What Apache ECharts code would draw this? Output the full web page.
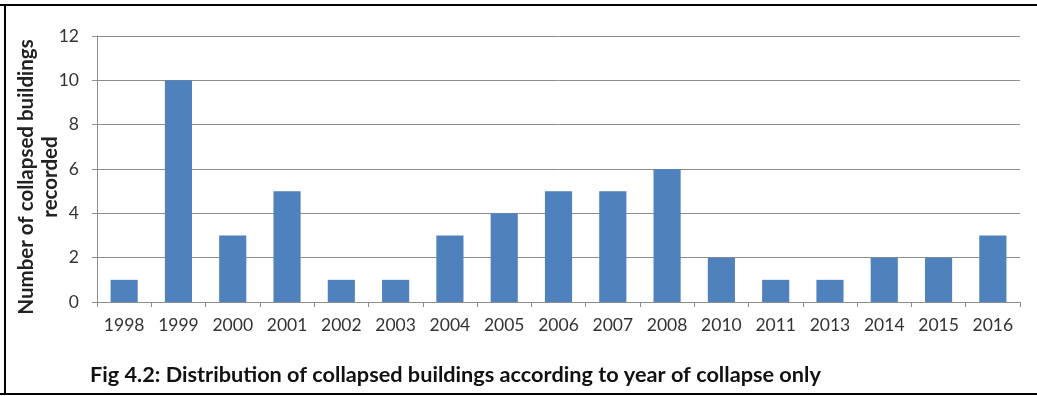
<!DOCTYPE html>
<html><head><meta charset="utf-8">
<script src="https://cdn.jsdelivr.net/npm/echarts@6/dist/echarts.min.js"></script>
<style>html,body{margin:0;padding:0;background:#fff}#c{width:1037px;height:396px}</style>
</head><body><div id="c"></div>
<script>
const categories = ['1998','1999','2000','2001','2002','2003','2004','2005','2006','2007','2008','2010','2011','2013','2014','2015','2016'];
const values = [1,10,3,5,1,1,3,4,5,5,6,2,1,1,2,2,3];
const yTitle = 'Number of collapsed buildings\nrecorded';
const caption = 'Fig 4.2: Distribution of collapsed buildings according to year of collapse only';

const chart = echarts.init(document.getElementById('c'), null, {renderer:'canvas'});
const font = 'Lato, "Liberation Sans", sans-serif';
chart.setOption({
  animation:false,
  grid:{left:97, right:17, top:36, bottom:94},
  xAxis:{type:'category', data:categories,
    axisLine:{lineStyle:{color:'#8c8c8c', width:1}},
    axisTick:{show:true, alignWithLabel:false, length:5, lineStyle:{color:'#8c8c8c'}},
    axisLabel:{color:'#333', fontSize:17.5, fontFamily:font, margin:14}},
  yAxis:{type:'value', min:0, max:12, interval:2,
    axisLine:{show:true, lineStyle:{color:'#8c8c8c'}},
    axisTick:{show:true, length:5, lineStyle:{color:'#8c8c8c'}},
    axisLabel:{color:'#333', fontSize:17.5, fontFamily:font, margin:18},
    splitLine:{lineStyle:{color:'#8c8c8c', width:1}}},
  series:[{type:'bar', data:values, barWidth:'50%', itemStyle:{color:'#4f81bd'}}],
  graphic:[
    {type:'text', x:38, y:177, rotation:Math.PI/2,
      style:{text:yTitle, align:'center', verticalAlign:'middle', fontFamily:font, fontWeight:'bold', fontSize:20.5, lineHeight:24, fill:'#222'}},
    {type:'text', x:90, y:375,
      style:{text:caption, align:'left', verticalAlign:'middle', fontFamily:font, fontWeight:'bold', fontSize:21.7, fill:'#111'}},
    {type:'line', shape:{x1:0,y1:5,x2:1037,y2:5}, style:{stroke:'#000', lineWidth:2}},
    {type:'line', shape:{x1:5,y1:4,x2:5,y2:395}, style:{stroke:'#000', lineWidth:2}},
    {type:'line', shape:{x1:0,y1:394,x2:1037,y2:394}, style:{stroke:'#000', lineWidth:2}}
  ]
});
</script></body></html>
